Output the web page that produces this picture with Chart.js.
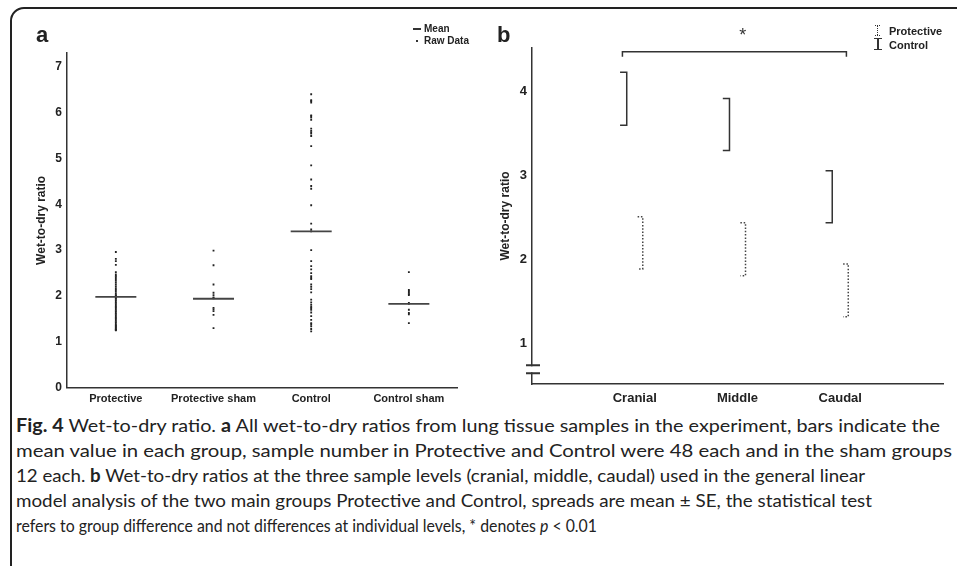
<!DOCTYPE html>
<html lang="en">
<head>
<meta charset="UTF-8">
<title>Wet-to-dry ratio</title>
<script src="https://cdn.jsdelivr.net/npm/chart.js"></script>
<style>
    body {
        margin: 0;
        width: 957px;
        height: 566px;
        overflow: hidden;
        position: relative;
        background: #fff;
        color: #222;
        font-family: "Liberation Sans", Arial, sans-serif;
    }
    .frame {
        position: absolute;
        left: 10px;
        top: 7px;
        width: 990px;
        height: 620px;
        border: 2px solid #222;
        border-radius: 14px;
    }
    canvas { position: absolute; top: 0; }
    #chartA { left: 0; }
    #chartB { left: 480px; }
    .panel {
        position: absolute;
        top: 24px;
        font-size: 22px;
        line-height: 22px;
        font-weight: bold;
    }
    .leg {
        position: absolute;
        font-size: 10px;
        line-height: 12px;
        font-weight: bold;
        white-space: nowrap;
    }
    .legB { font-size: 11px; line-height: 13px; }
    .mark { position: absolute; background: #333; }
    .caption {
        position: absolute;
        left: 16px;
        font-family: Lato, "Open Sans", sans-serif;
        font-size: 18px;
        line-height: 20px;
        white-space: nowrap;
        transform-origin: left center;
        color: #222;
    }
</style>
</head>
<body>
    <div class="frame"></div>

    <canvas id="chartA" width="480" height="410"></canvas>
    <canvas id="chartB" width="477" height="410"></canvas>

    <div class="panel" style="left:36px">a</div>
    <div class="panel" style="left:497px">b</div>

    <!-- legend a -->
    <div class="mark" style="left:413px; top:28px; width:8px; height:1.5px"></div>
    <div class="leg" style="left:424px; top:23px">Mean</div>
    <div class="mark" style="left:416px; top:40px; width:2px; height:2px"></div>
    <div class="leg" style="left:424px; top:35px">Raw Data</div>

    <!-- legend b -->
    <div style="position:absolute; left:877px; top:26px; height:9px; border-left:1.5px dotted #333"></div>
    <div style="position:absolute; left:875px; top:25px; width:5px; border-top:1px dotted #333"></div>
    <div style="position:absolute; left:875px; top:35px; width:5px; border-top:1px dotted #333"></div>
    <div class="leg legB" style="left:889px; top:25px">Protective</div>
    <div class="mark" style="left:877px; top:38px; width:1.5px; height:12px"></div>
    <div class="mark" style="left:874px; top:38px; width:8px; height:1.2px"></div>
    <div class="mark" style="left:874px; top:49px; width:8px; height:1.2px"></div>
    <div class="leg legB" style="left:889px; top:39px">Control</div>

    <div class="caption" data-w="924" style="top:415px"><b>Fig. 4</b> Wet-to-dry ratio. <b>a</b> All wet-to-dry ratios from lung tissue samples in the experiment, bars indicate the</div>
    <div class="caption" data-w="936" style="top:440px">mean value in each group, sample number in Protective and Control were 48 each and in the sham groups</div>
    <div class="caption" data-w="849" style="top:465px">12 each. <b>b</b> Wet-to-dry ratios at the three sample levels (cranial, middle, caudal) used in the general linear</div>
    <div class="caption" data-w="856" style="top:490px">model analysis of the two main groups Protective and Control, spreads are mean ± SE, the statistical test</div>
    <div class="caption" data-w="581" style="top:515px">refers to group difference and not differences at individual levels, * denotes <i>p</i> &lt; 0.01</div>

<script>
    // panel a: all samples
    const groups = ['Protective', 'Protective sham', 'Control', 'Control sham'];
    const protective = [2.96, 2.81, 2.76, 2.68, 2.52, 2.47, 2.44, 2.41, 2.37, 2.33, 2.29, 2.25,
        2.21, 2.17, 2.13, 2.09, 2.05, 2.02, 2.00, 1.98, 1.96, 1.94, 1.91, 1.88,
        1.85, 1.82, 1.79, 1.76, 1.73, 1.70, 1.67, 1.64, 1.61, 1.58, 1.55, 1.52,
        1.49, 1.46, 1.43, 1.40, 1.37, 1.35, 1.33, 1.31, 1.29, 1.27, 1.26, 1.25];
    const protectiveSham = [2.99, 2.67, 2.25, 2.07, 2.02, 1.97, 1.95, 1.74, 1.71, 1.67, 1.59, 1.30];
    const control = [6.40, 6.27, 6.25, 6.22, 5.94, 5.92, 5.89, 5.84, 5.65, 5.60, 5.57, 5.54,
        5.49, 5.27, 4.85, 4.54, 4.40, 4.34, 3.98, 3.58, 3.45, 3.41, 3.00, 2.76,
        2.65, 2.58, 2.50, 2.43, 2.40, 2.37, 2.25, 2.20, 2.15, 2.08, 1.92, 1.86,
        1.81, 1.76, 1.73, 1.70, 1.64, 1.56, 1.48, 1.41, 1.38, 1.34, 1.28, 1.23];
    const controlSham = [2.52, 2.13, 2.10, 2.07, 2.04, 2.02, 1.85, 1.83, 1.70, 1.63, 1.60, 1.41];
    const groupMeans = [1.98, 1.94, 3.41, 1.83];
    const ticksA = [0, 1, 2, 3, 4, 5, 6, 7];

    // panel b: mean +- SE per level
    const levels = ['Cranial', 'Middle', 'Caudal'];
    const controlMean = [3.915, 3.61, 2.75];
    const controlSE = [0.315, 0.31, 0.31];
    const protectiveMean = [2.20, 2.125, 1.635];
    const protectiveSE = [0.31, 0.315, 0.315];
    const ticksB = [1, 2, 3, 4];

    Chart.defaults.font.family = '"Liberation Sans", Arial, sans-serif';
    Chart.defaults.color = '#222';
    Chart.defaults.animation = false;

    const rawSets = [protective, protectiveSham, control, controlSham];
    const rawPoints = [];
    rawSets.forEach((vals, i) => vals.forEach(v => rawPoints.push({ x: i + 1, y: v })));

    new Chart(document.getElementById('chartA'), {
        type: 'scatter',
        data: {
            datasets: [
                {
                    label: 'Mean',
                    data: groupMeans.map((m, i) => ({ x: i + 1, y: m })),
                    pointStyle: 'line',
                    pointRadius: 20.5,
                    pointBorderWidth: 1.8,
                    pointBorderColor: '#444'
                },
                {
                    label: 'Raw Data',
                    data: rawPoints,
                    pointStyle: 'rect',
                    pointRadius: 1.3,
                    pointBorderWidth: 0,
                    pointBackgroundColor: '#222'
                }
            ]
        },
        options: {
            responsive: false,
            layout: { padding: { left: 0, right: 5, top: 53, bottom: 0 } },
            plugins: { legend: { display: false }, tooltip: { enabled: false } },
            scales: {
                x: {
                    type: 'linear',
                    min: 0.5,
                    max: 4.5,
                    afterBuildTicks: s => { s.ticks = groups.map((g, i) => ({ value: i + 1 })); },
                    afterFit: s => { s.height = 22; },
                    grid: { display: false, drawTicks: false },
                    border: { color: '#333', width: 1.5 },
                    ticks: {
                        callback: v => groups[v - 1],
                        font: { size: 11, weight: 'bold' },
                        padding: 5,
                        maxRotation: 0,
                        autoSkip: false
                    }
                },
                y: {
                    min: 0,
                    max: 7.3,
                    afterBuildTicks: s => { s.ticks = ticksA.map(v => ({ value: v })); },
                    afterFit: s => { s.width = 67; },
                    grid: { display: false, drawTicks: false },
                    border: { color: '#333', width: 1.5 },
                    ticks: { font: { size: 12, weight: 'bold' }, padding: 5 },
                    title: {
                        display: true,
                        text: 'Wet-to-dry ratio',
                        font: { size: 12, weight: 'bold' },
                        padding: { top: 34, bottom: 0 }
                    }
                }
            }
        }
    });

    // bracket "]" for each level, control left of centre, protective right
    function bracket(x, m, se, w) {
        return [
            { x: x - w, y: m + se },
            { x: x, y: m + se },
            { x: x, y: m - se },
            { x: x - w, y: m - se }
        ];
    }
    const setsB = [];
    levels.forEach((lv, i) => {
        setsB.push({
            label: 'Control ' + lv,
            data: bracket(i + 1 - 0.078, controlMean[i], controlSE[i], 0.065),
            showLine: true,
            borderColor: '#333',
            borderWidth: 1.5,
            pointRadius: 0
        });
        setsB.push({
            label: 'Protective ' + lv,
            data: bracket(i + 1 + 0.078, protectiveMean[i], protectiveSE[i], 0.05),
            showLine: true,
            borderColor: '#444',
            borderWidth: 1.5,
            borderDash: [1.5, 1.8],
            pointRadius: 0
        });
    });

    // significance bracket, asterisk and the axis break
    const extrasB = {
        id: 'extrasB',
        afterDraw(chart) {
            const { ctx, scales: { x, y } } = chart;
            ctx.save();
            ctx.strokeStyle = '#333';
            ctx.lineWidth = 1.5;
            const x0 = x.getPixelForValue(0.88), x1 = x.getPixelForValue(3.06);
            const yTop = y.getPixelForValue(4.475), yEnd = yTop + 5;
            ctx.beginPath();
            ctx.moveTo(x0, yEnd);
            ctx.lineTo(x0, yTop);
            ctx.lineTo(x1, yTop);
            ctx.lineTo(x1, yEnd);
            ctx.stroke();

            ctx.fillStyle = '#333';
            ctx.font = '18px "Liberation Sans", Arial, sans-serif';
            ctx.textAlign = 'center';
            ctx.textBaseline = 'alphabetic';
            ctx.fillText('*', x.getPixelForValue(2.05), yTop - 11);

            const ax = x.getPixelForValue(0);
            const yb = y.getPixelForValue(0.695);
            ctx.fillStyle = '#fff';
            ctx.fillRect(ax - 2, yb - 3, 4, 6);
            ctx.lineWidth = 2;
            ctx.beginPath();
            ctx.moveTo(ax - 6, yb - 4); ctx.lineTo(ax + 8, yb - 4);
            ctx.moveTo(ax - 6, yb + 4); ctx.lineTo(ax + 8, yb + 4);
            ctx.stroke();
            ctx.restore();
        }
    };

    new Chart(document.getElementById('chartB'), {
        type: 'scatter',
        data: { datasets: setsB },
        plugins: [extrasB],
        options: {
            responsive: false,
            layout: { padding: { left: 0, right: 14, top: 48, bottom: 0 } },
            plugins: { legend: { display: false }, tooltip: { enabled: false } },
            scales: {
                x: {
                    type: 'linear',
                    min: 0,
                    max: 4,
                    afterBuildTicks: s => { s.ticks = levels.map((l, i) => ({ value: i + 1 })); },
                    afterFit: s => { s.height = 26; },
                    grid: { display: false, drawTicks: false },
                    border: { color: '#333', width: 1.5 },
                    ticks: {
                        callback: v => levels[v - 1],
                        font: { size: 13, weight: 'bold' },
                        padding: 7,
                        maxRotation: 0,
                        autoSkip: false
                    }
                },
                y: {
                    min: 0.52,
                    max: 4.52,
                    afterBuildTicks: s => { s.ticks = ticksB.map(v => ({ value: v })); },
                    afterFit: s => { s.width = 52; },
                    grid: { display: false, drawTicks: false },
                    border: { color: '#333', width: 1.5 },
                    ticks: { font: { size: 13, weight: 'bold' }, padding: 5 },
                    title: {
                        display: true,
                        text: 'Wet-to-dry ratio',
                        font: { size: 12, weight: 'bold' },
                        padding: { top: 18, bottom: 0 }
                    }
                }
            }
        }
    });

    // squeeze caption lines to the widths in the figure
    document.querySelectorAll('.caption').forEach(el => {
        const w = el.getBoundingClientRect().width;
        el.style.transform = 'scaleX(' + (parseFloat(el.dataset.w) / w) + ')';
    });
</script>
</body>
</html>
